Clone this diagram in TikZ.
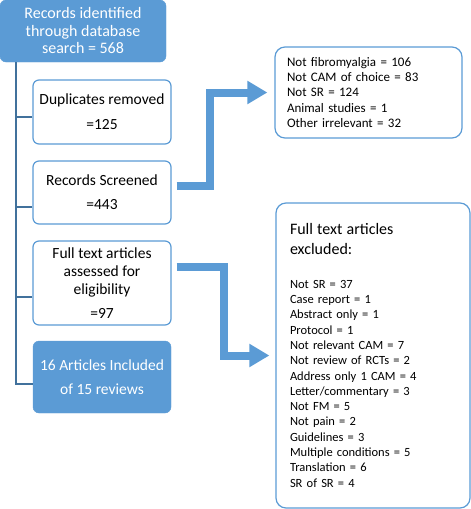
\documentclass[tikz,border=0pt]{standalone}
\usepackage{fontspec}
\setmainfont{Carlito}
\usetikzlibrary{arrows.meta}
\definecolor{boxblue}{HTML}{5B9BD5}
\definecolor{linkblue}{HTML}{41719C}

\begin{document}
\begin{tikzpicture}[x=1pt,y=-1pt]
\tikzset{filled/.style ={draw=boxblue, fill=boxblue, text=white, rounded corners=6pt, minimum width=138pt, align=center, font=\fontsize{15.5}{18}\selectfont}}
\tikzset{plain/.style ={draw=boxblue, line width=1.2pt, fill=white, rounded corners=6pt, minimum width=138pt, align=center, font=\fontsize{15.5}{18}\selectfont}}
\tikzset{reasons/.style ={draw=boxblue, line width=1.2pt, rounded corners=10pt, align=left, inner xsep=12pt, font=\fontsize{13}{15.4}\selectfont}}
\tikzset{link/.style ={draw=linkblue, line width=1.5pt}}
\tikzset{bigarrow/.style ={draw=boxblue, line width=8pt, -{Triangle[length=20pt, width=22pt]}}}
\useasboundingbox (0,0) rectangle (471,509);
\node[filled, minimum width=166pt, minimum height=62pt, font=\fontsize{16}{17.5}\selectfont] (search) at (83,31) {Records identified\\through database\\search = 568};
\node[plain, minimum height=64pt] (dup) at (102,112) {Duplicates removed\\[7pt]=125};
\node[plain, minimum height=63pt] (scr) at (102,192.5) {Records Screened\\[6pt]=443};
\node[plain, minimum height=84pt] (full) at (102,283) {Full text articles\\assessed for\\eligibility\\[6pt]=97};
\node[filled, minimum height=72pt] (incl) at (102,377) {16 Articles Included\\[6pt]of 15 reviews};
\node[reasons, minimum height=91pt, text width=163pt] (screenout) at (368.5,92.5) {Not fibromyalgia = 106\\Not CAM of choice = 83\\Not SR = 124\\Animal studies = 1\\Other irrelevant = 32};
\node[reasons, minimum height=305pt, text width=166pt, inner xsep=14pt, font=\fontsize{12.5}{15.3}\selectfont] (fullout) at (373,355.5) {{\fontsize{16}{20}\selectfont Full text articles\\excluded:\par}\vspace{18pt}
Not SR = 37\\Case report = 1\\Abstract only = 1\\Protocol = 1\\Not relevant CAM = 7\\Not review of RCTs = 2\\Address only 1 CAM = 4\\Letter/commentary = 3\\Not FM = 5\\Not pain = 2\\Guidelines = 3\\Multiple conditions = 5\\Translation = 6\\SR of SR = 4\par\vspace{8pt}};
\coordinate (trunk) at (16,384);
\draw[link] (search.south -| trunk) -- (trunk) -- ([yshift=-7pt]incl.west);
\draw[link] ([yshift=-5pt]dup.west) -- ++(-17,0);
\draw[link] ([yshift=-14.5pt]scr.west) -- ++(-17,0);
\draw[link] ([yshift=-14pt]full.west) -- ++(-17,0);
\draw[bigarrow] ([xshift=5pt,yshift=6.5pt]scr.east) -- ++(33,0) |- ([xshift=-7pt]screenout.west);
\draw[bigarrow] ([xshift=5pt,yshift=16pt]full.east) -- ++(47,0) |- ([xshift=-6pt]fullout.west);
\end{tikzpicture}
\end{document}
